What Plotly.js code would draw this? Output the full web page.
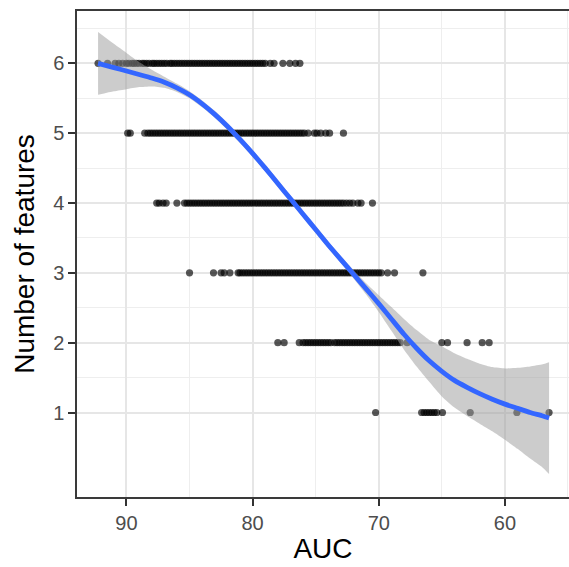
<!DOCTYPE html>
<html>
<head>
<meta charset="utf-8">
<script src="https://cdn.plot.ly/plotly-3.0.1.min.js"></script>
<style>html,body{margin:0;padding:0;background:#fff;}#chart{width:569px;height:567px;}</style>
</head>
<body>
<div id="chart"></div>
<script>
// AUC values of each configuration, grouped by number of features
const auc6 = [92.25, 91.5, 90.9, 90.6, 90.3, 90.0, 89.8, 89.55, 89.4, 89.2, 89.0, 88.75, 88.6, 88.4, 88.2, 87.95, 87.8, 87.6, 87.4, 87.2, 87.0, 86.8, 86.55, 86.4, 86.2, 86.0, 85.8, 85.6, 85.4, 85.2, 85.0, 84.8, 84.6, 84.4, 84.2, 84.0, 83.8, 83.6, 83.4, 83.2, 83.0, 82.8, 82.6, 82.4, 82.2, 82.0, 81.8, 81.6, 81.4, 81.2, 81.0, 80.8, 80.6, 80.4, 80.2, 80.0, 79.8, 79.6, 79.4, 79.2, 79.0, 78.6, 78.3, 77.6, 77.05, 76.6, 76.25];
const auc5 = [89.9, 89.7, 88.55, 88.3, 88.1, 87.9, 87.7, 87.5, 87.3, 87.1, 86.9, 86.7, 86.5, 86.3, 86.1, 85.9, 85.7, 85.5, 85.3, 85.1, 84.9, 84.7, 84.5, 84.3, 84.1, 83.9, 83.7, 83.5, 83.3, 83.1, 82.9, 82.7, 82.5, 82.3, 82.1, 81.9, 81.7, 81.5, 81.3, 81.1, 80.9, 80.7, 80.5, 80.3, 80.1, 79.9, 79.7, 79.5, 79.3, 79.1, 78.9, 78.7, 78.5, 78.3, 78.1, 77.9, 77.7, 77.5, 77.3, 77.1, 76.9, 76.7, 76.5, 76.3, 76.1, 75.9, 75.6, 75.1, 74.9, 74.6, 74.2, 73.9, 72.8];
const auc4 = [87.6, 87.4, 87.1, 86.85, 86.0, 85.4, 85.2, 85.0, 84.8, 84.6, 84.4, 84.2, 84.0, 83.8, 83.6, 83.4, 83.2, 83.0, 82.8, 82.6, 82.4, 82.2, 82.0, 81.8, 81.6, 81.4, 81.2, 81.0, 80.8, 80.6, 80.4, 80.2, 80.0, 79.8, 79.6, 79.4, 79.2, 79.0, 78.8, 78.6, 78.4, 78.2, 78.0, 77.8, 77.6, 77.4, 77.2, 77.0, 76.8, 76.6, 76.4, 76.2, 76.0, 75.8, 75.6, 75.4, 75.2, 75.0, 74.8, 74.6, 74.4, 74.2, 74.0, 73.8, 73.6, 73.4, 73.2, 73.0, 72.8, 72.55, 72.3, 72.05, 71.65, 71.4, 70.5];
const auc3 = [85.0, 83.1, 82.5, 82.25, 81.8, 81.15, 81.0, 80.8, 80.6, 80.4, 80.2, 80.0, 79.8, 79.6, 79.4, 79.2, 79.0, 78.8, 78.6, 78.4, 78.2, 78.0, 77.8, 77.6, 77.4, 77.2, 77.0, 76.8, 76.6, 76.4, 76.2, 76.0, 75.8, 75.6, 75.4, 75.2, 75.0, 74.8, 74.6, 74.4, 74.2, 74.0, 73.8, 73.6, 73.4, 73.2, 73.0, 72.8, 72.6, 72.4, 72.2, 72.0, 71.8, 71.6, 71.4, 71.2, 71.0, 70.8, 70.6, 70.4, 70.2, 70.0, 69.8, 69.3, 68.75, 66.5];
const auc2 = [78.0, 77.5, 76.3, 76.0, 75.8, 75.6, 75.4, 75.2, 75.0, 74.8, 74.6, 74.4, 74.2, 74.0, 73.8, 73.5, 73.3, 73.1, 72.9, 72.7, 72.5, 72.3, 72.1, 71.9, 71.7, 71.5, 71.3, 71.1, 70.9, 70.7, 70.5, 70.3, 70.1, 69.9, 69.7, 69.5, 69.3, 69.1, 68.9, 68.7, 68.5, 68.3, 67.75, 65.0, 64.55, 63.0, 61.8, 61.25];
const auc1 = [70.25, 66.6, 66.4, 66.2, 66.0, 65.8, 65.6, 65.4, 64.95, 62.75, 59.05, 56.5];

// LOESS smooth and its confidence band
const smoothAUC = [92.25, 91, 90, 89, 88, 87, 86, 85, 84, 83, 82, 81, 80, 79, 78, 77, 76, 75, 74, 73, 72, 71, 70, 69, 68, 67, 66, 65, 64, 63, 62, 61, 60, 59, 58, 57, 56.5];
const smoothFit = [6.00, 5.94, 5.89, 5.84, 5.79, 5.73, 5.65, 5.55, 5.42, 5.27, 5.10, 4.91, 4.71, 4.50, 4.28, 4.06, 3.84, 3.62, 3.40, 3.19, 2.98, 2.77, 2.56, 2.34, 2.12, 1.92, 1.74, 1.59, 1.46, 1.36, 1.27, 1.19, 1.12, 1.06, 1.00, 0.95, 0.92];
const smoothLower = [5.55, 5.60, 5.63, 5.66, 5.67, 5.65, 5.59, 5.50, 5.37, 5.22, 5.05, 4.86, 4.66, 4.45, 4.23, 4.01, 3.79, 3.57, 3.35, 3.14, 2.92, 2.69, 2.44, 2.17, 1.90, 1.66, 1.44, 1.23, 1.07, 0.95, 0.84, 0.73, 0.61, 0.48, 0.34, 0.21, 0.12];
const smoothUpper = [6.45, 6.28, 6.15, 6.02, 5.91, 5.81, 5.71, 5.60, 5.47, 5.32, 5.15, 4.96, 4.76, 4.55, 4.33, 4.11, 3.89, 3.67, 3.45, 3.24, 3.04, 2.85, 2.68, 2.51, 2.34, 2.18, 2.04, 1.95, 1.85, 1.77, 1.70, 1.65, 1.63, 1.64, 1.66, 1.69, 1.72];

const yTicks = [1, 2, 3, 4, 5, 6];
const yMinor = [1.5, 2.5, 3.5, 4.5, 5.5, 6.5];
const xTicks = [90, 80, 70, 60];
const xMinor = [85, 75, 65, 55];

const groups = [[auc1, 1], [auc2, 2], [auc3, 3], [auc4, 4], [auc5, 5], [auc6, 6]];
const px = [], py = [];
groups.forEach(([vals, n]) => vals.forEach(v => { px.push(v); py.push(n); }));

const traces = [
  {
    x: px, y: py, type: 'scatter', mode: 'markers', hoverinfo: 'skip',
    marker: { color: 'rgba(0,0,0,0.66)', size: 7.2, line: { width: 0 } }
  },
  {
    x: smoothAUC, y: smoothLower, type: 'scatter', mode: 'lines',
    line: { width: 0, shape: 'spline', smoothing: 0.5 }, hoverinfo: 'skip'
  },
  {
    x: smoothAUC, y: smoothUpper, type: 'scatter', mode: 'lines', fill: 'tonexty',
    fillcolor: 'rgba(153,153,153,0.5)', line: { width: 0, shape: 'spline', smoothing: 0.5 }, hoverinfo: 'skip'
  },
  {
    x: smoothAUC, y: smoothFit, type: 'scatter', mode: 'lines',
    line: { color: '#3366FF', width: 4.8, shape: 'spline', smoothing: 0.5 }, hoverinfo: 'skip'
  }
];

const font = 'Liberation Sans, Arial, Helvetica, sans-serif';
const layout = {
  width: 569, height: 567,
  margin: { l: 77, r: 0, t: 11, b: 70 },
  paper_bgcolor: '#fff', plot_bgcolor: '#fff',
  showlegend: false,
  font: { family: font },
  xaxis: {
    range: [93.92, 54.92],
    tickmode: 'array', tickvals: xTicks,
    ticks: 'outside', ticklen: 7, tickwidth: 2, tickcolor: '#333',
    tickfont: { size: 20, color: '#4D4D4D', family: font },
    showgrid: true, gridcolor: '#E6E6E6', gridwidth: 2,
    minor: { tickmode: 'array', tickvals: xMinor, showgrid: true, gridcolor: '#EEEEEE', gridwidth: 1, ticks: '' },
    showline: true, linecolor: '#3a3a3a', linewidth: 1.6, mirror: true,
    zeroline: false, automargin: false,
    title: { text: 'AUC', font: { size: 28, color: '#000', family: font }, standoff: 6 }
  },
  yaxis: {
    range: [-0.21, 6.75],
    tickmode: 'array', tickvals: yTicks,
    ticks: 'outside', ticklen: 7, tickwidth: 2, tickcolor: '#333',
    tickfont: { size: 20, color: '#4D4D4D', family: font },
    showgrid: true, gridcolor: '#E6E6E6', gridwidth: 2,
    minor: { tickmode: 'array', tickvals: yMinor, showgrid: true, gridcolor: '#EEEEEE', gridwidth: 1, ticks: '' },
    showline: true, linecolor: '#3a3a3a', linewidth: 1.6, mirror: false,
    zeroline: false, automargin: false,
    title: { text: 'Number of features', font: { size: 28, color: '#000', family: font }, standoff: 10 }
  }
};

Plotly.newPlot('chart', traces, layout, { staticPlot: true, displayModeBar: false });
</script>
</body>
</html>
